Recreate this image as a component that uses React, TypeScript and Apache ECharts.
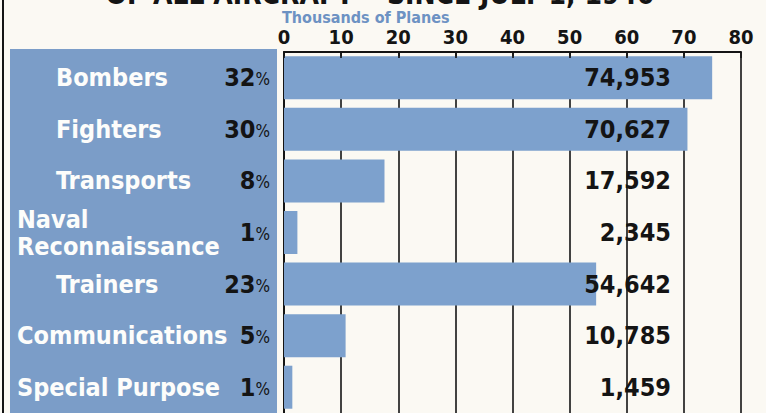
import React, { useEffect, useRef } from "react";
import * as echarts from "echarts";

const categories = [
  "Bombers",
  "Fighters",
  "Transports",
  "Naval\nReconnaissance",
  "Trainers",
  "Communications",
  "Special Purpose",
];
const planes = [74953, 70627, 17592, 2345, 54642, 10785, 1459];
const shares = [32, 30, 8, 1, 23, 5, 1];
const axisMin = 0;
const axisMax = 80;
const axisStep = 10;
const titleText = "OF ALL AIRCRAFT • SINCE JULY 1, 1940";
const unitText = "Thousands of Planes";

const FONT = '"DejaVu Sans Condensed", "DejaVu Sans", sans-serif';
const BLUE = "#7da1cd";
const PANEL = "#7b9dc8";
const INK = "#141414";
const PAPER = "#fbf9f3";

export default function App() {
  const ref = useRef<HTMLDivElement>(null);

  useEffect(() => {
    document.body.style.margin = "0";
    document.body.style.background = PAPER;
    const chart = echarts.init(ref.current as HTMLDivElement, null, { renderer: "svg" });
    const gridLeft = 284;
    const gridRight = 25;

    chart.setOption({
      animation: false,
      backgroundColor: PAPER,
      graphic: [
        { type: "rect", shape: { x: 2, y: 0, width: 2, height: 413 }, style: { fill: INK }, z: 0 },
        { type: "rect", shape: { x: 10, y: 49, width: 267, height: 364 }, style: { fill: PANEL }, z: -1 },
        {
          type: "text",
          x: 380,
          y: -6,
          style: {
            text: titleText,
            fontFamily: FONT,
            fontSize: 28,
            fontWeight: 900,
            fill: INK,
            align: "center",
            verticalAlign: "middle",
          },
        },
        {
          type: "text",
          x: 282,
          y: 17,
          style: {
            text: unitText,
            fontFamily: FONT,
            fontSize: 16,
            fontWeight: "bold",
            fill: "#6d92c3",
            align: "left",
            verticalAlign: "middle",
          },
        },
      ],
      grid: { left: gridLeft, right: gridRight, top: 52, bottom: 0 },
      xAxis: [
        {
          type: "value",
          position: "top",
          min: axisMin,
          max: axisMax,
          interval: axisStep,
          axisLine: { show: true, lineStyle: { color: INK, width: 2 } },
          axisTick: { show: false },
          axisLabel: {
            margin: 5,
            fontFamily: FONT,
            fontSize: 20,
            fontWeight: "bold",
            color: INK,
          },
          splitLine: { show: true, lineStyle: { color: INK, width: 1.6 } },
        },
        {
          type: "value",
          position: "top",
          offset: 0,
          min: axisMin,
          max: axisMax,
          interval: axisStep,
          z: 10,
          axisLine: { show: false },
          axisTick: { show: true, inside: true, length: 6, lineStyle: { color: INK, width: 1.6 } },
          axisLabel: { show: false },
          splitLine: { show: false },
        },
      ],
      yAxis: [
        {
          type: "category",
          data: categories,
          inverse: true,
          position: "left",
          axisLine: { show: true, lineStyle: { color: INK, width: 2 } },
          axisTick: { show: false },
          axisLabel: {
            interval: 0,
            margin: gridLeft - 17,
            align: "left",
            formatter: (v: string) => (v.length >= 12 ? `{w|${v}}` : `{s|${v}}`),
            rich: {
              w: {
                fontFamily: FONT,
                fontSize: 25,
                fontWeight: "bold",
                color: "#fdfdfb",
                lineHeight: 27,
              },
              s: {
                fontFamily: FONT,
                fontSize: 25,
                fontWeight: "bold",
                color: "#fdfdfb",
                lineHeight: 27,
                padding: [0, 0, 0, 39],
              },
            },
          },
        },
        {
          type: "category",
          data: categories,
          inverse: true,
          position: "left",
          offset: 0,
          axisLine: { show: false },
          axisTick: { show: false },
          axisLabel: {
            interval: 0,
            margin: 14,
            align: "right",
            formatter: (_v: string, i: number) => `{d|${shares[i]}}{p|%}`,
            rich: {
              d: { fontFamily: FONT, fontSize: 25, fontWeight: "bold", color: INK },
              p: { fontFamily: FONT, fontSize: 17, color: INK, padding: [3, 0, 0, 0] },
            },
          },
        },
        {
          type: "category",
          data: categories,
          inverse: true,
          position: "right",
          offset: 0,
          z: 10,
          axisLine: { show: false },
          axisTick: { show: false },
          axisLabel: {
            interval: 0,
            margin: -70,
            align: "right",
            formatter: (_v: string, i: number) => planes[i].toLocaleString("en-US"),
            fontFamily: FONT,
            fontSize: 25,
            fontWeight: "bold",
            color: INK,
            padding: [4, 0, 0, 0],
          },
        },
      ],
      series: [
        {
          type: "bar",
          xAxisIndex: 0,
          yAxisIndex: 0,
          barWidth: 43,
          itemStyle: { color: BLUE },
          data: planes.map((v) => v / 1000),
          z: 2,
        },
      ],
    });

    return () => chart.dispose();
  }, []);

  return <div ref={ref} style={{ width: 766, height: 413 }} />;
}
